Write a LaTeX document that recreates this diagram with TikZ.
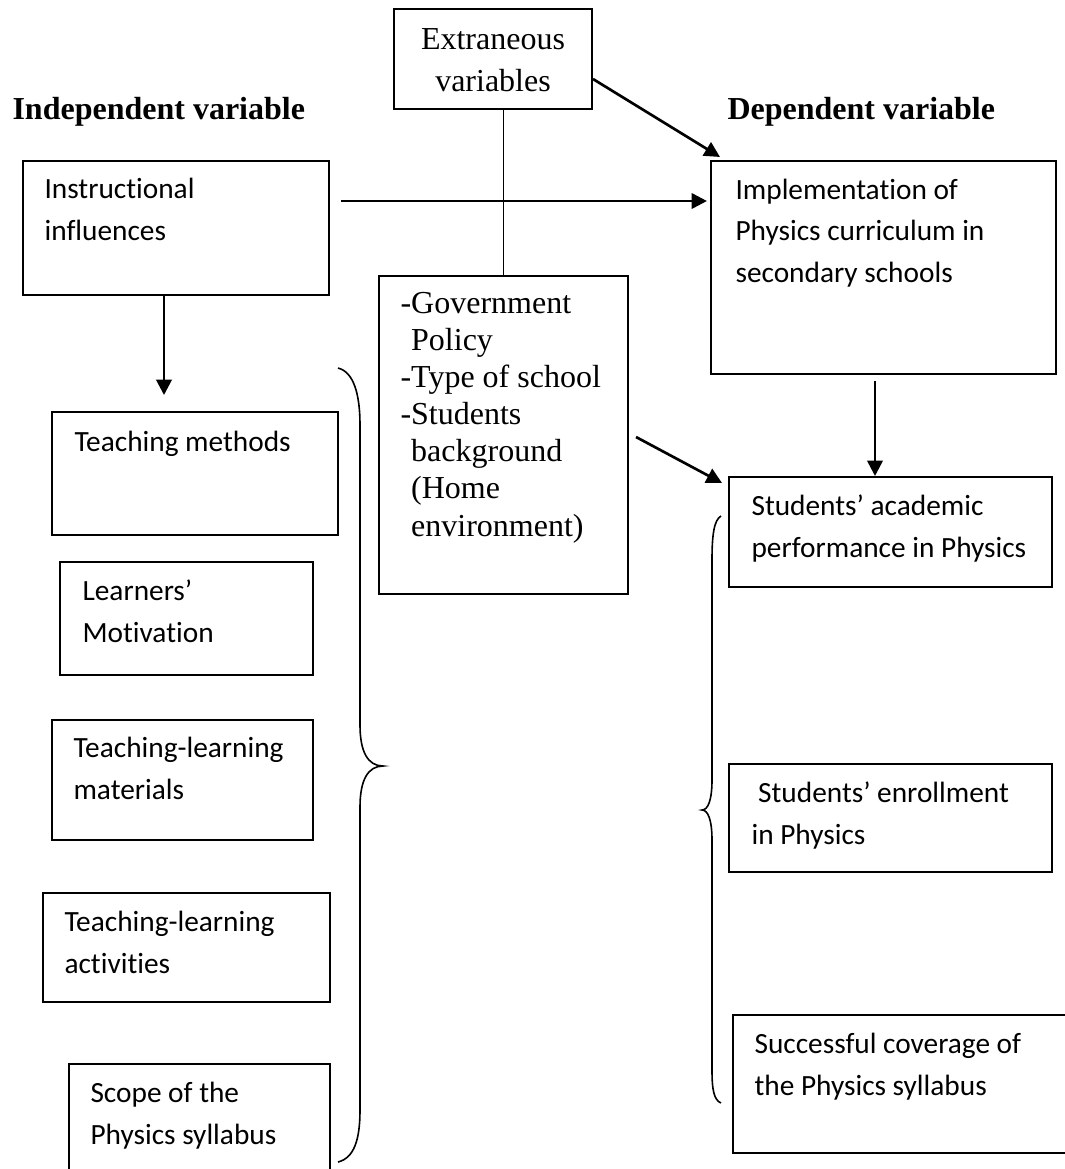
\documentclass[tikz,border=0pt]{standalone}
\usepackage{fontspec}
\setmainfont{Liberation Serif}
\newfontfamily\carlito[Ligatures=NoCommon]{Carlito}
\usetikzlibrary{arrows.meta,calc}

\begin{document}
\begin{tikzpicture}[x=0.375pt, y=-0.375pt,
  box/.style={draw, line width=0.75pt, inner sep=0pt},
  ctext/.style={font=\carlito\fontsize{11}{15.4}\selectfont, align=left, anchor=base west, inner sep=0pt},
  ttext/.style={font=\fontsize{12}{13.9}\selectfont, align=left, anchor=base west, inner sep=0pt},
  head/.style={font=\bfseries\fontsize{12}{14}\selectfont, anchor=base west, inner sep=0pt},
  arr/.style={-{Triangle[length=5.8pt,width=5.8pt]}, line width=1pt},
  link/.style={line width=0.5pt},
  brc/.style={line width=0.6pt}]
\useasboundingbox (0,0) rectangle (1065,1169);
\clip (0,0) rectangle (1065,1169);

\node[head] (indep) at (12,119) {Independent variable};
\node[head] (dep) at (727,119) {Dependent variable};

\node[box, minimum width=74.25pt, minimum height=37.5pt] (ext) at (493,59) {};
\node[ttext, font=\fontsize{12}{15.75}\selectfont, align=center, anchor=base] (extT) at (493,91) {Extraneous\\variables};

\node[box, minimum width=114.75pt, minimum height=50.25pt] (inst) at (176,228) {};
\node[ctext] (instT) at (44,240) {Instructional\\influences};

\node[box, minimum width=129.4pt, minimum height=79.9pt] (impl) at (883.5,267.5) {};
\node[ctext] (implT) at (735,282) {Implementation of\\Physics curriculum in\\secondary schools};

\node[box, minimum width=93.4pt, minimum height=119.25pt] (gov) at (503.5,435) {};
\node[ttext] (govT) at (400,536) {-Government\\\hphantom{-}Policy\\-Type of school\\-Students\\\hphantom{-}background\\\hphantom{-}(Home\\\hphantom{-}environment)};

\node[box, minimum width=107.25pt, minimum height=46.1pt] (tmeth) at (195,473.5) {};
\node[ctext] (tmethT) at (74,451) {Teaching methods};

\node[box, minimum width=94.9pt, minimum height=42.4pt] (motiv) at (186.5,618.5) {};
\node[ctext] (motivT) at (82,642) {Learners’\\Motivation};

\node[box, minimum width=97.9pt, minimum height=45pt] (tmat) at (182.5,780) {};
\node[ctext] (tmatT) at (73,799) {Teaching-learning\\materials};

\node[box, minimum width=107.6pt, minimum height=40.9pt] (tact) at (186.5,947.5) {};
\node[ctext] (tactT) at (64,973) {Teaching-learning\\activities};

\node[box, minimum width=97.9pt, minimum height=51pt] (scope) at (199.5,1132) {};
\node[ctext] (scopeT) at (90,1144) {Scope of the\\Physics syllabus};

\node[box, minimum width=121.1pt, minimum height=41.25pt] (perf) at (890.5,532) {};
\node[ctext] (perfT) at (751,557) {Students’ academic\\performance in Physics};

\node[box, minimum width=121.1pt, minimum height=40.5pt] (enrol) at (890.5,818) {};
\node[ctext] (enrolT) at (751,844) {\ Students’ enrollment\\in Physics};

\node[box, minimum width=137.6pt, minimum height=51.75pt] (cover) at (916.5,1084) {};
\node[ctext] (coverT) at (754,1095) {Successful coverage of\\the Physics syllabus};

\draw[arr] ($(inst.east)+(11,-27)$) -- ($(impl.west)+(-3,-66.5)$);
\draw[arr] ($(ext.east)+(0,20)$) -- ($(impl.north west)+(10,-3)$);
\draw[link] (gov.north |- ext.south) -- (gov.north);
\draw[arr] ($(inst.south)+(-12,0)$) -- ($(tmeth.north)+(-31,-16)$);
\draw[arr] ($(impl.south)+(-8.5,6)$) -- ($(perf.north)+(-15.5,0)$);
\draw[arr] ($(gov.east)+(7,2)$) -- ($(perf.north west)+(-6,7)$);

\draw[brc] (338,368) .. controls (354,372) and (360,395) .. (360,425) -- (360,725)
  .. controls (360,752) and (368,766) .. (383,766)
  .. controls (368,766) and (360,780) .. (360,807) -- (360,1110)
  .. controls (360,1140) and (354,1158) .. (338,1162);
\draw[brc] (721,516) .. controls (714,520) and (712,535) .. (712,560) -- (712,780)
  .. controls (712,800) and (708,810) .. (702,810)
  .. controls (708,810) and (712,820) .. (712,840) -- (712,1070)
  .. controls (712,1090) and (714,1100) .. (721,1103);
\end{tikzpicture}
\end{document}
